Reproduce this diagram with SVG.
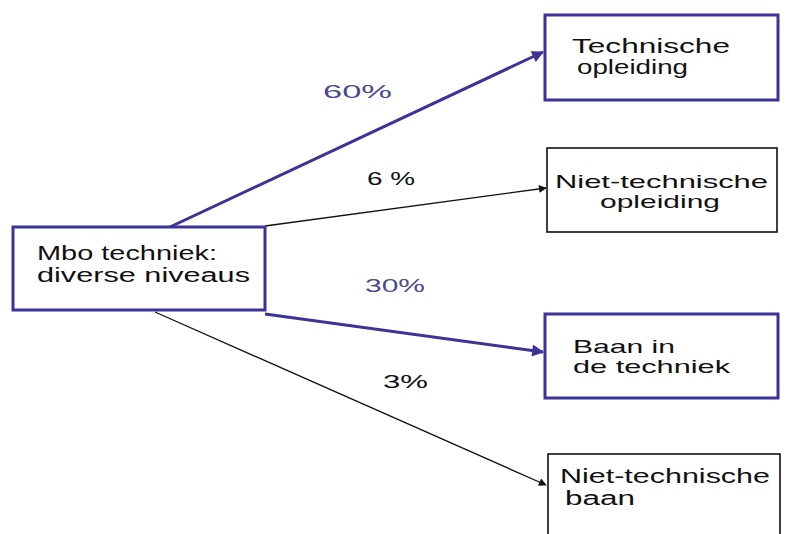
<svg xmlns="http://www.w3.org/2000/svg" width="789" height="534" viewBox="0 0 789 534">
<style>
.pbox{fill:#fff;stroke:#3b3496;stroke-width:3}
.bbox{fill:#fff;stroke:#111;stroke-width:1.6}
.t{font-family:"Liberation Sans",Arial,sans-serif;font-size:20px;fill:#111}
.tt{font-family:"Liberation Sans",Arial,sans-serif;font-size:19px;fill:#111}
.lp{font-family:"Liberation Sans",Arial,sans-serif;font-size:18px;fill:#4a4a8c}
.lb{font-family:"Liberation Sans",Arial,sans-serif;font-size:18px;fill:#111}
.cp{stroke:#3b3496;stroke-width:3;fill:none}
.cb{stroke:#111;stroke-width:1.3;fill:none}
</style>
<defs>
<marker id="ap" viewBox="0 0 10 10" refX="9" refY="5" markerWidth="5" markerHeight="4" orient="auto" markerUnits="strokeWidth"><path d="M0,0 L10,5 L0,10 z" fill="#3b3496"/></marker>
<marker id="ab" viewBox="0 0 10 10" refX="9" refY="5" markerWidth="9" markerHeight="6" orient="auto" markerUnits="strokeWidth"><path d="M0,0 L10,5 L0,10 z" fill="#111"/></marker>
</defs>
<rect width="789" height="534" fill="#fff"/>
<g id="connectors">
<line class="cp" x1="170" y1="227" x2="543" y2="52" marker-end="url(#ap)"/>
<line class="cb" x1="265" y1="226" x2="546" y2="188" marker-end="url(#ab)"/>
<line class="cp" x1="265" y1="314" x2="543" y2="352" marker-end="url(#ap)"/>
<line class="cb" x1="155" y1="312" x2="546" y2="485" marker-end="url(#ab)"/>
<text class="lp" x="323" y="98" textLength="69" lengthAdjust="spacingAndGlyphs">60%</text>
<text class="lb" x="367" y="185" textLength="48" lengthAdjust="spacingAndGlyphs">6 %</text>
<text class="lp" x="365" y="292" textLength="60" lengthAdjust="spacingAndGlyphs">30%</text>
<text class="lb" x="383" y="388" textLength="45" lengthAdjust="spacingAndGlyphs">3%</text>
</g>
<g id="mbo">
<rect class="pbox" x="13" y="227" width="252" height="83"/>
<text class="t" x="37" y="260" textLength="180" lengthAdjust="spacingAndGlyphs">Mbo techniek:</text>
<text class="t" x="37" y="282" textLength="213" lengthAdjust="spacingAndGlyphs">diverse niveaus</text>
</g>
<g id="tech-opl">
<rect class="pbox" x="545" y="15" width="233" height="85"/>
<text class="t" x="572" y="53" textLength="158" lengthAdjust="spacingAndGlyphs">Technische</text>
<text class="t" x="577" y="74" textLength="111" lengthAdjust="spacingAndGlyphs">opleiding</text>
</g>
<g id="niet-tech-opl">
<rect class="bbox" x="547" y="148" width="230" height="84"/>
<text class="tt" x="555" y="188" textLength="213" lengthAdjust="spacingAndGlyphs">Niet-technische</text>
<text class="tt" x="600" y="208" textLength="120" lengthAdjust="spacingAndGlyphs">opleiding</text>
</g>
<g id="baan-tech">
<rect class="pbox" x="545" y="314" width="233" height="84"/>
<text class="tt" x="573" y="353" textLength="102" lengthAdjust="spacingAndGlyphs">Baan in</text>
<text class="tt" x="573" y="373" textLength="157" lengthAdjust="spacingAndGlyphs">de techniek</text>
</g>
<g id="niet-tech-baan">
<rect class="bbox" x="548" y="454" width="232" height="100"/>
<text class="t" x="560" y="483" textLength="210" lengthAdjust="spacingAndGlyphs">Niet-technische</text>
<text class="t" x="565" y="505" textLength="70" lengthAdjust="spacingAndGlyphs">baan</text>
</g>
</svg>
